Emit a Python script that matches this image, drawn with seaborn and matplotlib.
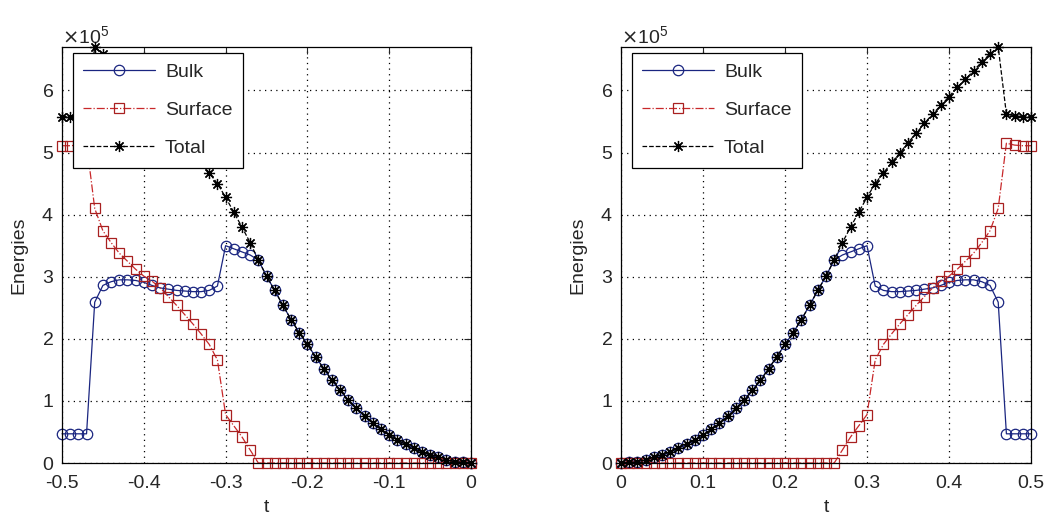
import numpy as np
import pandas as pd
import matplotlib
matplotlib.use("Agg")
import matplotlib.pyplot as plt
import seaborn as sns
from matplotlib.ticker import ScalarFormatter

# time grid of the right panel (left panel is the mirror, t -> -t)
t = np.round(np.arange(0, 51) / 100, 2)

# energies in units of 1e5
total = [0.00, 0.01, 0.02, 0.05, 0.09, 0.13, 0.18, 0.24, 0.30, 0.37,
         0.45, 0.54, 0.64, 0.75, 0.88, 1.01, 1.17, 1.33, 1.52, 1.71,
         1.91, 2.10, 2.31, 2.54, 2.78, 3.01, 3.27, 3.55, 3.80, 4.04,
         4.28, 4.50, 4.67, 4.84, 4.99, 5.16, 5.31, 5.47, 5.62, 5.76,
         5.90, 6.05, 6.18, 6.32, 6.46, 6.59, 6.70, 5.62, 5.59, 5.58,
         5.58]
bulk = [0.00, 0.01, 0.02, 0.05, 0.09, 0.13, 0.18, 0.24, 0.30, 0.37,
        0.45, 0.54, 0.64, 0.75, 0.88, 1.01, 1.17, 1.33, 1.52, 1.71,
        1.91, 2.10, 2.31, 2.54, 2.78, 3.01, 3.27, 3.35, 3.40, 3.45,
        3.50, 2.85, 2.78, 2.76, 2.76, 2.77, 2.78, 2.80, 2.82, 2.86,
        2.91, 2.94, 2.95, 2.95, 2.92, 2.86, 2.59, 0.47, 0.47, 0.47,
        0.47]
surface = [0.00, 0.00, 0.00, 0.00, 0.00, 0.00, 0.00, 0.00, 0.00, 0.00,
           0.00, 0.00, 0.00, 0.00, 0.00, 0.00, 0.00, 0.00, 0.00, 0.00,
           0.00, 0.00, 0.00, 0.00, 0.00, 0.00, 0.00, 0.21, 0.42, 0.60,
           0.78, 1.66, 1.91, 2.08, 2.24, 2.39, 2.54, 2.68, 2.82, 2.93,
           3.01, 3.12, 3.25, 3.38, 3.55, 3.74, 4.10, 5.15, 5.12, 5.11,
           5.11]

sns.set_style("white")
plt.rcParams['font.family'] = ['Liberation Sans', 'DejaVu Sans']
plt.rcParams['font.size'] = 14
plt.rcParams['axes.unicode_minus'] = False

df = pd.DataFrame({'t': t,
                   'Bulk': np.array(bulk) * 1e5,
                   'Surface': np.array(surface) * 1e5,
                   'Total': np.array(total) * 1e5})

styles = {
    'Bulk': dict(color='#1a2580', linestyle='-', marker='o', markersize=7.5,
                 markerfacecolor='none', markeredgecolor='#1a2580'),
    'Surface': dict(color='#c8282a', linestyle='-.', marker='s', markersize=7.5,
                    markerfacecolor='none', markeredgecolor='#a82020'),
    'Total': dict(color='black', linestyle='--', marker=(8, 2, 0), markersize=8,
                  markerfacecolor='none', markeredgecolor='black'),
}

fig = plt.figure(figsize=(10.54, 5.25), dpi=100)
ax1 = fig.add_axes([62 / 1054, 62 / 525, 409 / 1054, 416 / 525])
ax2 = fig.add_axes([621 / 1054, 62 / 525, 410 / 1054, 416 / 525])

for ax, sign in [(ax1, -1), (ax2, 1)]:
    for name in ['Bulk', 'Surface', 'Total']:
        sns.lineplot(x=sign * df['t'], y=df[name], ax=ax, label=name,
                     linewidth=0.9, markeredgewidth=0.9, sort=True,
                     clip_on=False, **styles[name])
    if sign < 0:
        ax.set_xlim(-0.5, 0)
        ax.set_xticks([-0.5, -0.4, -0.3, -0.2, -0.1, 0])
        ax.set_xticklabels(['-0.5', '-0.4', '-0.3', '-0.2', '-0.1', '0'])
    else:
        ax.set_xlim(0, 0.5)
        ax.set_xticks([0, 0.1, 0.2, 0.3, 0.4, 0.5])
        ax.set_xticklabels(['0', '0.1', '0.2', '0.3', '0.4', '0.5'])
    ax.set_ylim(0, max(total) * 1e5)
    ax.set_yticks([0, 1e5, 2e5, 3e5, 4e5, 5e5, 6e5])
    fmt = ScalarFormatter(useMathText=True)
    fmt.set_powerlimits((0, 0))
    ax.yaxis.set_major_formatter(fmt)
    ax.yaxis.get_offset_text().set_fontsize(14)
    ax.set_xlabel('t', labelpad=5)
    ax.set_ylabel('Energies', labelpad=10)
    ax.grid(True, color='black', linestyle=(0, (1, 3.5)), linewidth=0.9)
    ax.tick_params(axis='x', pad=9)
    ax.tick_params(axis='y', pad=6)
    ax.tick_params(direction='in', top=True, right=True, length=5,
                   width=0.8, labelsize=14)
    for sp in ax.spines.values():
        sp.set_color('black')
        sp.set_linewidth(0.9)
        sp.set_zorder(5)
    leg = ax.legend(loc='upper left', bbox_to_anchor=(0.026, 0.986),
                    borderaxespad=0, fancybox=False, framealpha=1,
                    edgecolor='black', fontsize=14, handlelength=3.7,
                    handletextpad=0.5, labelspacing=1.05, borderpad=0.55,
                    numpoints=1)
    leg.get_frame().set_linewidth(0.9)
    leg.set_zorder(10)

fig.savefig('out.png', dpi=100, facecolor='white')
